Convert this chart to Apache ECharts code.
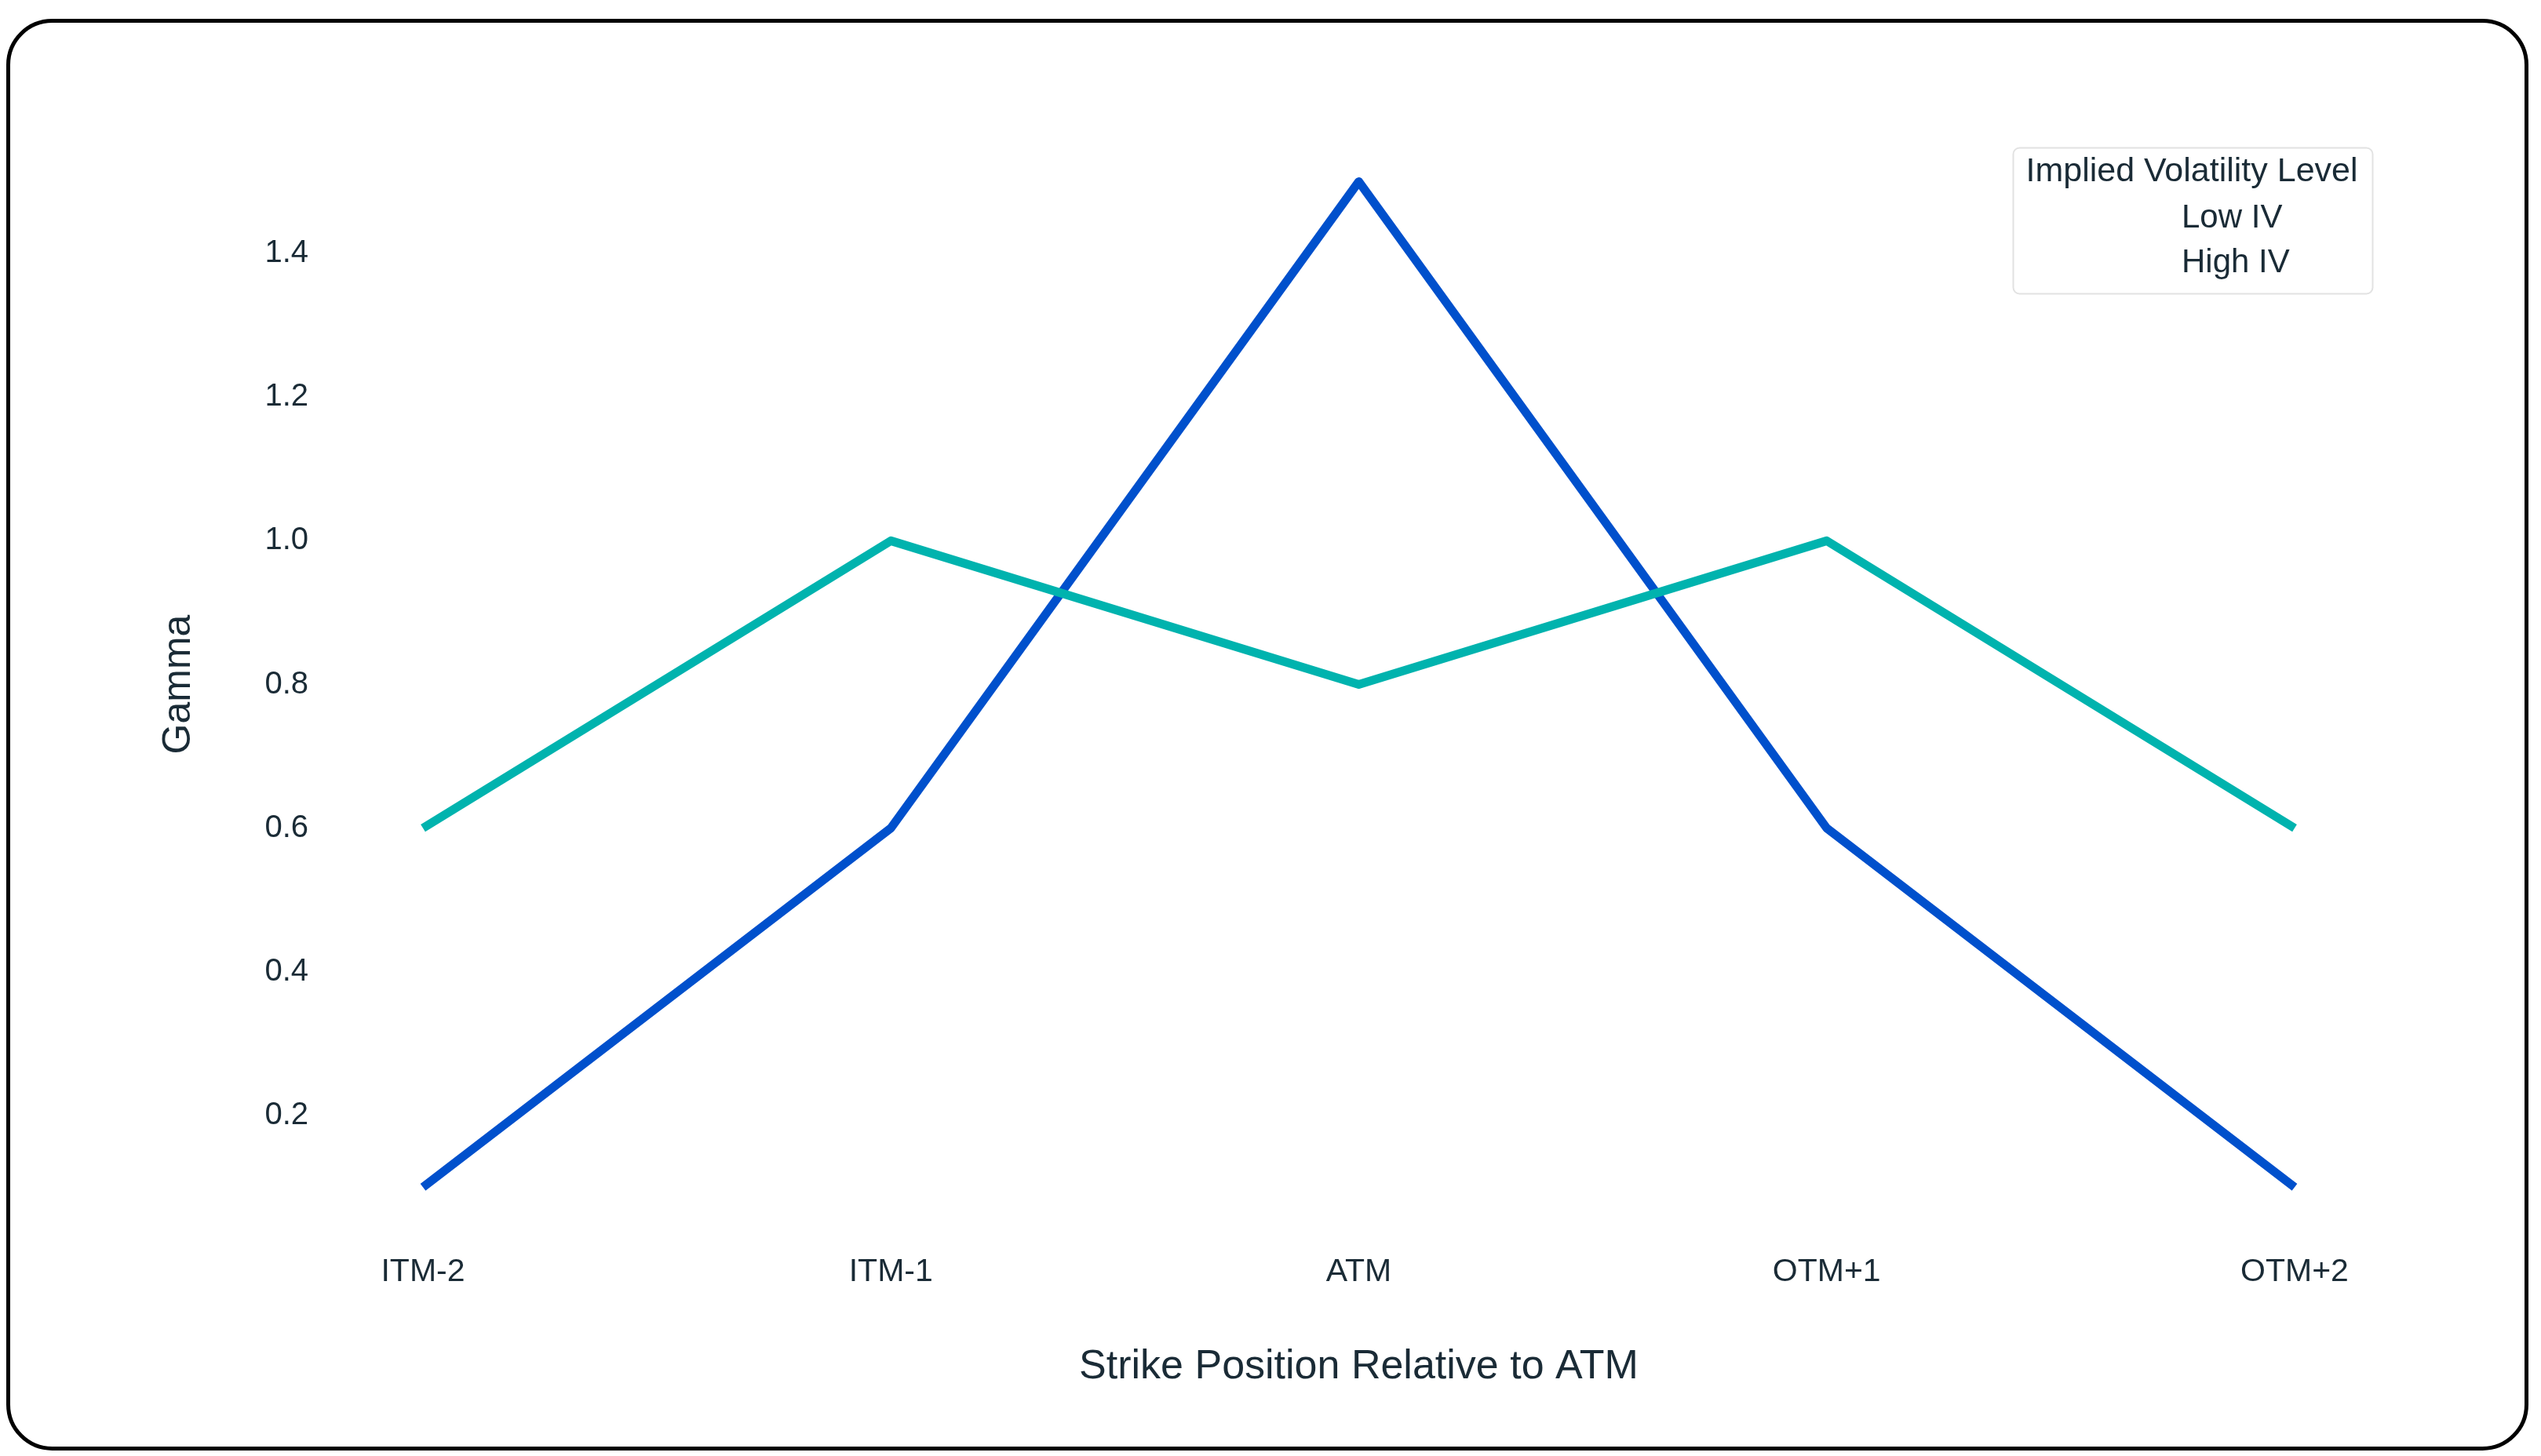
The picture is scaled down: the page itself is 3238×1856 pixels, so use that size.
<!DOCTYPE html>
<html>
<head>
<meta charset="utf-8">
<script src="https://cdn.jsdelivr.net/npm/echarts@6/dist/echarts.min.js"></script>
<style>
html,body{margin:0;padding:0;background:#fff;}
#chart{width:3238px;height:1856px;}
</style>
</head>
<body>
<div id="chart"></div>
<script>
const categories = ['ITM-2', 'ITM-1', 'ATM', 'OTM+1', 'OTM+2'];
const lowIV = [0.1, 0.6, 1.5, 0.6, 0.1];
const highIV = [0.6, 1.0, 0.8, 1.0, 0.6];
const seriesNames = ['Low IV', 'High IV'];
const legendTitle = 'Implied Volatility Level';
const xTitle = 'Strike Position Relative to ATM';
const yTitle = 'Gamma';

const FONT = '"Liberation Sans", Arial, sans-serif';
const TEXT = '#1a2b36';

const chart = echarts.init(document.getElementById('chart'), null, {renderer: 'canvas'});
chart.setOption({
  backgroundColor: '#ffffff',
  animation: false,
  textStyle: {fontFamily: FONT},
  grid: {left: 539, right: 314, top: 140, bottom: 251, containLabel: false},
  xAxis: {
    type: 'category',
    data: categories,
    boundaryGap: false,
    axisLine: {show: false},
    axisTick: {show: false},
    splitLine: {show: false},
    axisLabel: {fontSize: 41, color: TEXT, fontFamily: FONT, margin: -4},
    name: xTitle,
    nameLocation: 'middle',
    nameGap: 112,
    nameTextStyle: {fontSize: 52, color: TEXT, fontFamily: FONT}
  },
  yAxis: {
    type: 'value',
    min: 0,
    max: 1.6,
    interval: 0.2,
    axisLine: {show: false},
    axisTick: {show: false},
    splitLine: {show: false},
    axisLabel: {
      fontSize: 40, color: TEXT, fontFamily: FONT, margin: 146,
      showMinLabel: false, showMaxLabel: false,
      formatter: v => v.toFixed(1)
    },
    name: yTitle,
    nameLocation: 'middle',
    nameGap: 286,
    nameRotate: 90,
    nameTextStyle: {fontSize: 50, color: TEXT, fontFamily: FONT}
  },
  legend: {
    orient: 'vertical',
    left: 2706,
    top: 248,
    data: seriesNames,
    icon: 'rect',
    itemWidth: 64,
    itemHeight: 14,
    itemGap: 7,
    itemStyle: {opacity: 0},
    lineStyle: {opacity: 0},
    inactiveColor: '#ffffff',
    textStyle: {fontSize: 42, color: TEXT, fontFamily: FONT, lineHeight: 50}
  },
  graphic: [
    {
      type: 'rect', left: 8, top: 24, z: 100, silent: true,
      shape: {width: 3209, height: 1820, r: 56},
      style: {fill: 'none', stroke: '#000', lineWidth: 5}
    },
    {
      type: 'rect', left: 2563, top: 186, z: 1, silent: true,
      shape: {width: 458, height: 186, r: 8},
      style: {fill: 'none', stroke: '#e2e2e2', lineWidth: 2}
    },
    {
      type: 'text', x: 2793, y: 219, z: 2, silent: true,
      style: {text: legendTitle, fontSize: 43, fill: TEXT, fontFamily: FONT, textAlign: 'center', textVerticalAlign: 'middle'}
    }
  ],
  series: [
    {
      name: seriesNames[0], type: 'line', data: lowIV,
      symbol: 'none', color: '#0050cc',
      lineStyle: {width: 11, color: '#0050cc', join: 'round'},
      z: 2
    },
    {
      name: seriesNames[1], type: 'line', data: highIV,
      symbol: 'none', color: '#00b3ae',
      lineStyle: {width: 11, color: '#00b3ae', join: 'round'},
      z: 3
    }
  ]
});
</script>
</body>
</html>
